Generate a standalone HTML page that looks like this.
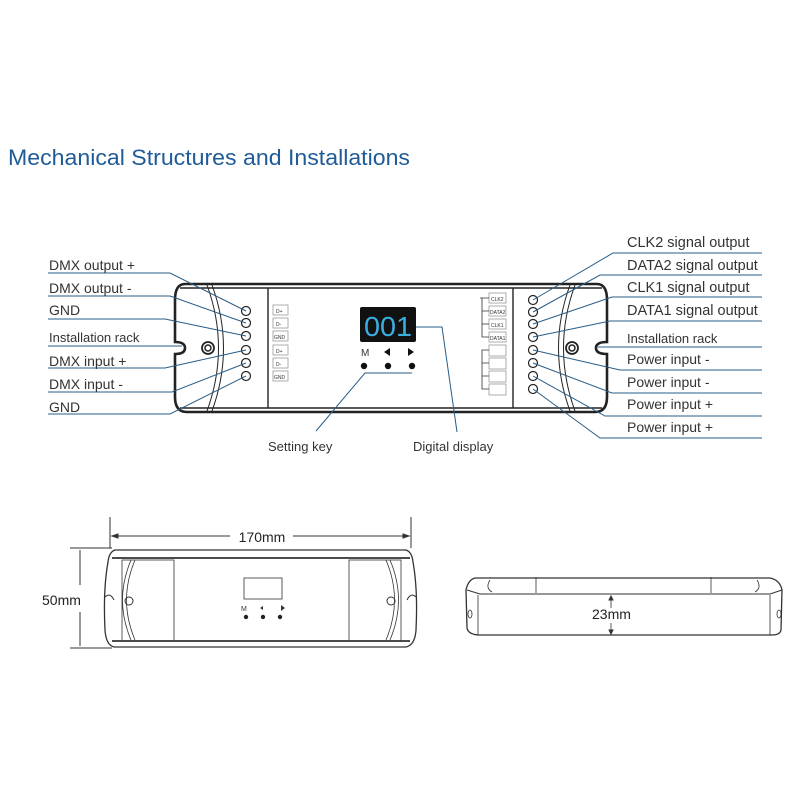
<!DOCTYPE html>
<html><head><meta charset="utf-8"><style>
html,body{margin:0;padding:0;background:#fff;}
svg{display:block;}
text{font-family:"Liberation Sans",sans-serif;}
</style></head><body>
<svg width="800" height="800" viewBox="0 0 800 800" xmlns="http://www.w3.org/2000/svg">
<text x="8" y="165" font-size="22" fill="#1f5b98" textLength="402" lengthAdjust="spacingAndGlyphs">Mechanical Structures and Installations</text>

<!-- main device -->
<g fill="none" stroke="#222">
  <path d="M185,284 L597,284 Q607,284 607,300 L607,342 Q596,342 596,348 Q596,354 607,354 L607,397 Q607,412 595,412 L187,412 Q175,412 175,397 L175,354 Q185,354 185,348 Q185,342 175,342 L175,300 Q175,284 185,284 Z" stroke-width="2.6"/>
  <line x1="180" y1="288" x2="602" y2="288" stroke-width="1.4"/>
  <line x1="180" y1="408" x2="602" y2="408" stroke-width="1.4"/>
  <path d="M207,285 Q230,348 207,411" stroke-width="1"/>
  <path d="M212,285 Q235,348 212,411" stroke-width="1"/>
  <path d="M575,285 Q552,348 575,411" stroke-width="1"/>
  <path d="M570,285 Q547,348 570,411" stroke-width="1"/>
  <line x1="268" y1="288" x2="268" y2="408" stroke-width="1.4"/>
  <line x1="513" y1="288" x2="513" y2="408" stroke-width="1.4"/>
  <circle cx="208" cy="348" r="6" stroke-width="1.8"/><circle cx="208" cy="348" r="3" stroke-width="1.5"/>
  <circle cx="572" cy="348" r="6" stroke-width="1.8"/><circle cx="572" cy="348" r="3" stroke-width="1.5"/>
  <g stroke-width="1.2">
    <circle cx="246" cy="311" r="4.5"/><circle cx="246" cy="323" r="4.5"/><circle cx="246" cy="336" r="4.5"/>
    <circle cx="246" cy="350" r="4.5"/><circle cx="246" cy="363" r="4.5"/><circle cx="246" cy="376" r="4.5"/>
    <circle cx="533" cy="300" r="4.5"/><circle cx="533" cy="312" r="4.5"/><circle cx="533" cy="324" r="4.5"/>
    <circle cx="533" cy="337" r="4.5"/><circle cx="533" cy="350" r="4.5"/><circle cx="533" cy="363" r="4.5"/>
    <circle cx="533" cy="376" r="4.5"/><circle cx="533" cy="389" r="4.5"/>
  </g>
</g>
<g fill="#fff" stroke="#999" stroke-width="0.8">
  <rect x="273" y="305" width="15" height="10"/><rect x="273" y="318" width="15" height="10"/><rect x="273" y="331" width="15" height="10"/>
  <rect x="273" y="345" width="15" height="10"/><rect x="273" y="358" width="15" height="10"/><rect x="273" y="371" width="15" height="10"/>
  <rect x="489" y="293" width="17" height="10"/><rect x="489" y="306" width="17" height="10"/><rect x="489" y="319" width="17" height="10"/><rect x="489" y="332" width="17" height="10"/>
  <rect x="489" y="345" width="17" height="11"/><rect x="489" y="358" width="17" height="11"/><rect x="489" y="371" width="17" height="11"/><rect x="489" y="384" width="17" height="11"/>
</g>
<g font-size="5" fill="#333">
  <text x="276" y="313">D+</text><text x="276" y="326">D-</text><text x="274" y="339">GND</text>
  <text x="276" y="353">D+</text><text x="276" y="366">D-</text><text x="274" y="379">GND</text>
  <text x="491" y="301">CLK2</text><text x="490" y="314">DATA2</text><text x="491" y="327">CLK1</text><text x="490" y="340">DATA1</text>
</g>
<g stroke="#333" stroke-width="0.8" fill="none">
  <path d="M480,298 L482,298 L482,337 L489,337 M482,311 L489,311 M482,324 L489,324 M482,298 L489,298"/>
  <path d="M489,350 L482,350 L482,389 L489,389 M482,363 L489,363 M482,376 L489,376"/>
</g>

<!-- display -->
<rect x="360" y="307" width="56" height="35" rx="2" fill="#111"/>
<text x="388" y="336" font-size="28" fill="#3aaee0" text-anchor="middle" font-family="DejaVu Sans Mono, monospace" textLength="48" lengthAdjust="spacingAndGlyphs">001</text>
<text x="361" y="356" font-size="10" fill="#333">M</text>
<path d="M384,352 L390,348 L390,356 Z M408,348 L414,352 L408,356 Z" fill="#111"/>
<circle cx="364" cy="366" r="3.2" fill="#111"/><circle cx="388" cy="366" r="3.2" fill="#111"/><circle cx="412" cy="366" r="3.2" fill="#111"/>

<!-- leader lines -->
<g stroke="#2a5d87" stroke-width="1" fill="none">
  <path d="M48,273 L170,273 L246,311"/>
  <path d="M48,296 L170,296 L246,323"/>
  <path d="M48,319 L165,319 L246,336"/>
  <path d="M48,346 L182,346"/>
  <path d="M48,368 L165,368 L246,350"/>
  <path d="M48,392 L172,392 L246,363"/>
  <path d="M48,414 L170,414 L246,376"/>
  <path d="M762,253 L613,253 L533,300"/>
  <path d="M762,275 L600,275 L533,312"/>
  <path d="M762,297 L612,297 L533,324"/>
  <path d="M762,321 L610,321 L533,337"/>
  <path d="M762,347 L598,347"/>
  <path d="M762,370 L620,370 L533,350"/>
  <path d="M762,393 L612,393 L533,363"/>
  <path d="M762,416 L605,416 L533,376"/>
  <path d="M762,438 L600,438 L533,389"/>
  <path d="M412,373 L365,373 L316,431"/>
  <path d="M416,327 L442,327 L457,432"/>
</g>
<g font-size="14" fill="#333">
  <text x="49" y="270">DMX output +</text>
  <text x="49" y="293">DMX output -</text>
  <text x="49" y="315">GND</text>
  <text x="49" y="342" font-size="13">Installation rack</text>
  <text x="49" y="366">DMX input +</text>
  <text x="49" y="389">DMX input -</text>
  <text x="49" y="412">GND</text>
  <text x="627" y="247" font-size="14.5">CLK2 signal output</text>
  <text x="627" y="270" font-size="14.5">DATA2 signal output</text>
  <text x="627" y="292" font-size="14.5">CLK1 signal output</text>
  <text x="627" y="315" font-size="14.5">DATA1 signal output</text>
  <text x="627" y="343" font-size="13">Installation rack</text>
  <text x="627" y="364">Power input -</text>
  <text x="627" y="387">Power input -</text>
  <text x="627" y="409">Power input +</text>
  <text x="627" y="432">Power input +</text>
  <text x="268" y="451" font-size="13">Setting key</text>
  <text x="413" y="451" font-size="13">Digital display</text>
</g>

<!-- bottom-left device -->
<g stroke="#333" fill="none">
  <line x1="110" y1="517" x2="110" y2="548" stroke-width="1"/>
  <line x1="411" y1="517" x2="411" y2="548" stroke-width="1"/>
  <line x1="112" y1="536" x2="230" y2="536" stroke-width="1"/>
  <line x1="293" y1="536" x2="409" y2="536" stroke-width="1"/>
  <path d="M112,536 l6,-2 v4 z M409,536 l-6,-2 v4 z" fill="#333"/>
  <line x1="70" y1="548" x2="112" y2="548" stroke-width="1"/>
  <line x1="70" y1="648" x2="112" y2="648" stroke-width="1"/>
  <line x1="80" y1="550" x2="80" y2="585" stroke-width="1"/>
  <line x1="80" y1="612" x2="80" y2="646" stroke-width="1"/>
  <path d="M115,550 L406,550 Q412,552 413,562 Q418,590 416,630 Q415,645 406,647 L114,647 Q106,645 105,630 Q103,590 108,562 Q109,552 115,550 Z" stroke-width="1.3"/>
  <line x1="112" y1="558" x2="410" y2="558" stroke-width="1.8"/>
  <line x1="112" y1="641" x2="410" y2="641" stroke-width="1.8"/>
  <path d="M135,560 Q118,600 135,640 M131,560 Q114,600 131,640 M386,560 Q403,600 386,640 M390,560 Q407,600 390,640" stroke-width="0.8"/>
  <rect x="122" y="560" width="52" height="81" stroke-width="0.8"/>
  <rect x="349" y="560" width="52" height="81" stroke-width="0.8"/>
  <circle cx="129" cy="601" r="4" stroke-width="1"/><circle cx="391" cy="601" r="4" stroke-width="1"/>
  <path d="M105,597 Q110,592 114,600 M416,597 Q411,592 407,600" stroke-width="1"/>
  <rect x="244" y="578" width="38" height="21" stroke-width="0.8"/>
</g>
<text x="262" y="542" font-size="14" fill="#222" text-anchor="middle">170mm</text>
<text x="42" y="605" font-size="14" fill="#222">50mm</text>
<text x="241" y="611" font-size="7" fill="#333">M</text>
<path d="M263,606 l-3,2 l3,2 z M281,605 l4,3 l-4,3 z" fill="#333"/>
<circle cx="246" cy="617" r="2.2" fill="#222"/><circle cx="263" cy="617" r="2.2" fill="#222"/><circle cx="280" cy="617" r="2.2" fill="#222"/>

<!-- bottom-right device -->
<g stroke="#333" fill="none">
  <path d="M475,578 L770,578 Q780,580 782,590 L781,630 Q780,635 772,635 L478,635 Q468,634 467,628 L466,590 Q468,580 475,578 Z" stroke-width="1.3"/>
  <path d="M467,590 L480,594 L770,594 L782,590" stroke-width="1"/>
  <line x1="478" y1="595" x2="478" y2="635" stroke-width="0.8"/>
  <line x1="770" y1="595" x2="770" y2="635" stroke-width="0.8"/>
  <line x1="536" y1="577" x2="536" y2="593" stroke-width="0.8"/>
  <line x1="711" y1="577" x2="711" y2="593" stroke-width="0.8"/>
  <path d="M490,580 Q485,588 492,592 M757,580 Q762,588 755,592" stroke-width="0.8"/>
  <ellipse cx="470" cy="614" rx="2" ry="4" stroke-width="0.8"/>
  <ellipse cx="779" cy="614" rx="2" ry="4" stroke-width="0.8"/>
  <path d="M611,596 L611,608 M611,623 L611,634" stroke-width="0.8"/>
  <path d="M611,596 l-2,4 h4 z M611,634 l-2,-4 h4 z" fill="#333"/>
</g>
<text x="592" y="619" font-size="14" fill="#222">23mm</text>
</svg>
</body></html>
